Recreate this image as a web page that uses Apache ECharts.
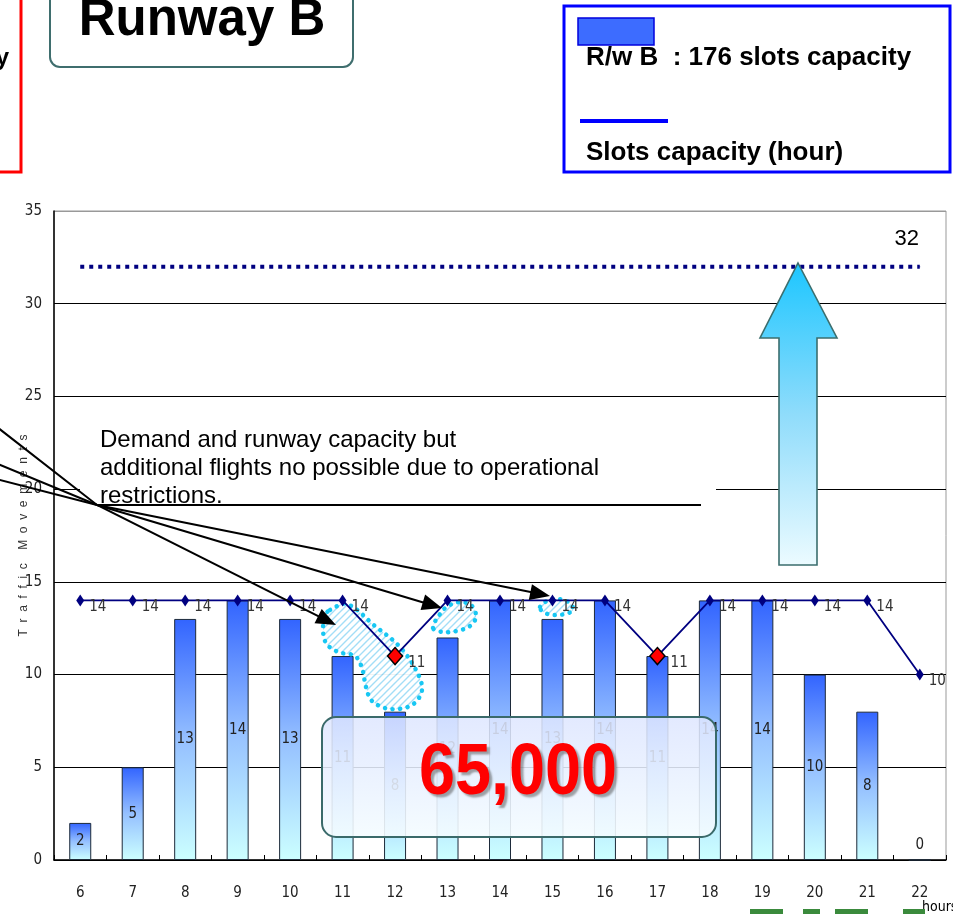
<!DOCTYPE html>
<html>
<head>
<meta charset="utf-8">
<title>Runway B</title>
<script src="https://cdn.jsdelivr.net/npm/echarts@6/dist/echarts.min.js"></script>
<style>
  html, body { margin: 0; padding: 0; background: #fff; }
  #chart { width: 953px; height: 914px; }
</style>
</head>
<body>
<div id="chart"></div>
<script>
// Hourly traffic on runway B
const hours = ['6', '7', '8', '9', '10', '11', '12', '13', '14', '15', '16', '17', '18', '19', '20', '21', '22'];
const movements = [2, 5, 13, 14, 13, 11, 8, 12, 14, 13, 14, 11, 14, 14, 10, 8, 0];
const slotsPerHour = [14, 14, 14, 14, 14, 14, 11, 14, 14, 14, 14, 11, 14, 14, 14, 14, 10];
const potentialSlots = [32, 32, 32, 32, 32, 32, 32, 32, 32, 32, 32, 32, 32, 32, 32, 32, 32];
const restrictedHours = ['12', '17'];
const yTicks = [0, 5, 10, 15, 20, 25, 30, 35];

const NARROW = "'Liberation Sans Narrow', 'DejaVu Sans Condensed', 'Liberation Sans', sans-serif";
const SANS = "'Liberation Sans', Arial, sans-serif";

const chart = echarts.init(document.getElementById('chart'), null, { renderer: 'canvas' });

// diagonal hatch used inside the highlighted zones
function hatchCanvas() {
  const c = document.createElement('canvas');
  c.width = 7; c.height = 7;
  const g = c.getContext('2d');
  g.fillStyle = '#ffffff';
  g.fillRect(0, 0, 7, 7);
  g.strokeStyle = '#9edcf6';
  g.lineWidth = 1.4;
  g.beginPath();
  g.moveTo(-1, 8); g.lineTo(8, -1);
  g.moveTo(-1, 1); g.lineTo(1, -1);
  g.moveTo(6, 8); g.lineTo(8, 6);
  g.stroke();
  return c;
}
const hatch = { image: hatchCanvas(), repeat: 'repeat' };

function arrowHead(tip, from, len, half) {
  const dx = tip[0] - from[0], dy = tip[1] - from[1];
  const d = Math.sqrt(dx * dx + dy * dy);
  const ux = dx / d, uy = dy / d;
  const bx = tip[0] - ux * len, by = tip[1] - uy * len;
  return [tip, [bx - uy * half, by + ux * half], [bx + uy * half, by - ux * half]];
}

const barGradient = new echarts.graphic.LinearGradient(0, 0, 0, 1, [
  { offset: 0, color: '#3264ff' },
  { offset: 0.5, color: '#95c0ff' },
  { offset: 1, color: '#ccffff' }
]);

const slotData = slotsPerHour.map((v, i) => {
  if (restrictedHours.indexOf(hours[i]) >= 0) {
    return {
      value: v,
      symbol: 'diamond',
      symbolSize: [15, 17],
      itemStyle: { color: '#ff0000', borderColor: '#000', borderWidth: 1.5 }
    };
  }
  return v;
});

const barData = movements.map(v => v === 0
  ? { value: v, label: { position: 'top', distance: 7 } }
  : v);

const potentialData = potentialSlots.map((v, i) => i === potentialSlots.length - 1
  ? { value: v, symbol: 'circle', symbolSize: 1,
      label: { show: true, position: 'top', distance: 16, offset: [-13, 0],
        color: '#000', fontSize: 22, fontFamily: SANS } }
  : v);

// annotation shapes
const arrowPaths = [
  { start: [-12, 420], tip: [336, 625] },
  { start: [-12, 460], tip: [442, 608] },
  { start: [-12, 477], tip: [550, 596] }
];
const cross = [97, 505];

const zones = [
  [[330, 610], [347, 604], [375, 626], [399, 646], [416, 670], [422, 690], [412, 705], [390, 709],
   [372, 701], [366, 687], [362, 668], [355, 656], [338, 652], [326, 643], [323, 627], [326, 614]],
  [[433, 628], [440, 614], [448, 606], [461, 602], [472, 606], [476, 617], [470, 626], [457, 631], [443, 632]],
  [[540, 607], [547, 601], [558, 599], [570, 603], [573, 610], [565, 614], [553, 615], [543, 612]]
];

const graphics = [];

// left partial box
graphics.push({ type: 'rect', z: 100, shape: { x: -10, y: -10, width: 31, height: 182 },
  style: { fill: '#fff', stroke: '#ff0000', lineWidth: 3 } });
graphics.push({ type: 'text', z: 101, x: 9, y: 70,
  style: { text: 'capacity', align: 'right', verticalAlign: 'bottom', fill: '#000',
    font: 'bold 24px ' + SANS } });

// title box
graphics.push({ type: 'rect', z: 100, shape: { x: 50, y: -14, width: 303, height: 81, r: 10 },
  style: { fill: '#fff', stroke: '#3f6e6e', lineWidth: 2 } });
graphics.push({ type: 'text', z: 101, x: 202, y: 46,
  style: { text: 'Runway B', align: 'center', verticalAlign: 'bottom', fill: '#000',
    font: 'bold 51px ' + SANS } });

// legend box
graphics.push({ type: 'rect', z: 100, shape: { x: 564, y: 6, width: 386, height: 166 },
  style: { fill: '#fff', stroke: '#0000ff', lineWidth: 3 } });
graphics.push({ type: 'rect', z: 101, shape: { x: 578, y: 18, width: 76, height: 27 },
  style: { fill: '#3d6cff', stroke: '#0000dd', lineWidth: 1.5 } });
graphics.push({ type: 'text', z: 102, x: 586, y: 71,
  style: { text: 'R/w B  : 176 slots capacity', verticalAlign: 'bottom', fill: '#000',
    font: 'bold 26px ' + SANS } });
graphics.push({ type: 'line', z: 101, shape: { x1: 580, y1: 121, x2: 668, y2: 121 },
  style: { stroke: '#0000ff', lineWidth: 4 } });
graphics.push({ type: 'text', z: 102, x: 586, y: 166,
  style: { text: 'Slots capacity (hour)', verticalAlign: 'bottom', fill: '#000',
    font: 'bold 26px ' + SANS } });

// note about operational restrictions
graphics.push({ type: 'rect', z: 100, shape: { x: 80, y: 416, width: 636, height: 88 },
  style: { fill: '#fff' } });
graphics.push({ type: 'line', z: 101, shape: { x1: 97, y1: 505, x2: 701, y2: 505 },
  style: { stroke: '#000', lineWidth: 1.8 } });
['Demand and runway capacity but',
 'additional flights no possible due to operational',
 'restrictions.'].forEach((t, i) => {
  graphics.push({ type: 'text', z: 101, x: 100, y: 452 + i * 28,
    style: { text: t, verticalAlign: 'bottom', fill: '#000', font: '24px ' + SANS } });
});

// highlighted zones (under the capacity line, over the grid)
zones.forEach(pts => {
  graphics.push({ type: 'polygon', z: 3, shape: { points: pts, smooth: 0.35 },
    style: { fill: hatch, opacity: 0.95, stroke: '#0cc4f2', lineWidth: 4.5, lineDash: [0.1, 7.5], lineCap: 'round' } });
});

// pointers from the note
arrowPaths.forEach(a => {
  const bend = arrowHead(a.tip, cross, 16, 0)[1];
  graphics.push({ type: 'polyline', z: 104, shape: { points: [a.start, cross, bend] },
    style: { stroke: '#000', lineWidth: 2, fill: null } });
  graphics.push({ type: 'polygon', z: 104, shape: { points: arrowHead(a.tip, cross, 20, 8) },
    style: { fill: '#000' } });
});

// upward arrow towards the 32-slot level
graphics.push({ type: 'polygon', z: 103,
  shape: { points: [[798, 263], [837, 338], [817, 338], [817, 565], [779, 565], [779, 338], [760, 338]] },
  style: {
    fill: new echarts.graphic.LinearGradient(0, 0, 0, 1, [
      { offset: 0, color: '#1cc6ff' },
      { offset: 0.5, color: '#8fdcfb' },
      { offset: 1, color: '#ecfbff' }
    ]),
    stroke: '#3b6e6e', lineWidth: 1.6
  } });

// annual figure panel
graphics.push({ type: 'rect', z: 105, shape: { x: 322, y: 717, width: 394, height: 120, r: 14 },
  style: {
    fill: new echarts.graphic.LinearGradient(0, 0, 0, 1, [
      { offset: 0, color: 'rgba(222,230,255,0.86)' },
      { offset: 1, color: 'rgba(244,252,255,0.9)' }
    ]),
    stroke: '#3a6a6a', lineWidth: 2
  } });
graphics.push({ type: 'text', z: 106, x: 518, y: 810, scaleX: 0.9,
  style: { text: '65,000', align: 'center', verticalAlign: 'bottom', fill: '#ff0000',
    font: 'bold 72px ' + SANS, textShadowColor: 'rgba(90,90,90,0.55)', textShadowBlur: 2,
    textShadowOffsetX: 3, textShadowOffsetY: 3 } });

// axis unit
graphics.push({ type: 'text', z: 101, x: 922, y: 900,
  style: { text: 'hours', fill: '#000', font: '14px ' + NARROW } });

// logo edge along the bottom
[[750, 33], [803, 17], [835, 33], [903, 22]].forEach(r => {
  graphics.push({ type: 'rect', z: 101, shape: { x: r[0], y: 909, width: r[1], height: 6 },
    style: { fill: '#3a8a3c' } });
});

chart.setOption({
  animation: false,
  backgroundColor: '#fff',
  grid: { left: 54, right: 7, top: 211, bottom: 54, show: true, borderColor: '#999', borderWidth: 1,
    outerBoundsMode: 'none', containLabel: false },
  xAxis: {
    type: 'category',
    data: hours,
    axisLine: { lineStyle: { color: '#000', width: 1.5 } },
    axisTick: { show: true, inside: true, length: 5, lineStyle: { color: '#000' } },
    axisLabel: { margin: 26, color: '#222', fontSize: 15, fontFamily: NARROW }
  },
  yAxis: {
    type: 'value',
    min: yTicks[0],
    max: yTicks[yTicks.length - 1],
    interval: yTicks[1] - yTicks[0],
    name: 'T  r  a  f  f  i  c    M  o  v  e  m  e  n  t  s',
    nameLocation: 'middle',
    nameGap: 24,
    nameMoveOverlap: false,
    nameTextStyle: { color: '#333', fontSize: 12, fontFamily: SANS },
    axisLine: { show: true, lineStyle: { color: '#000', width: 1.5 } },
    axisTick: { show: false },
    axisLabel: { margin: 12, color: '#222', fontSize: 15, fontFamily: NARROW },
    splitLine: { lineStyle: { color: ['#000', '#000', '#000', '#000', '#000', '#000', '#000', '#999'], width: 1 } }
  },
  series: [
    {
      name: 'R/w B',
      type: 'bar',
      data: barData,
      barWidth: 22,
      z: 2,
      itemStyle: { color: barGradient, borderColor: '#1d2a3a', borderWidth: 1 },
      label: { show: true, position: 'inside', color: '#222', fontSize: 15, fontFamily: NARROW }
    },
    {
      name: 'Slots capacity (hour)',
      type: 'line',
      data: slotData,
      z: 6,
      symbol: 'diamond',
      symbolSize: [8, 12],
      itemStyle: { color: '#000080' },
      lineStyle: { color: '#000080', width: 1.8 },
      label: { show: true, position: 'right', distance: 5, offset: [0, 7], color: '#333',
        fontSize: 15, fontFamily: NARROW }
    },
    {
      name: 'Potential slots',
      type: 'line',
      data: potentialData,
      z: 5,
      symbol: 'none',
      itemStyle: { color: '#000080' },
      lineStyle: { color: '#000080', width: 4, type: [4, 5], cap: 'butt' }
    }
  ],
  graphic: graphics
});
</script>
</body>
</html>
